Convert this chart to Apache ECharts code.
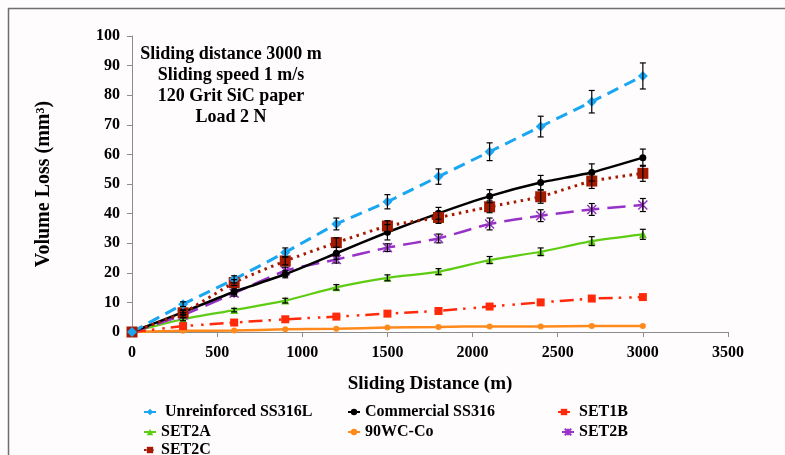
<!DOCTYPE html>
<html>
<head>
<meta charset="utf-8">
<script src="https://cdn.jsdelivr.net/npm/echarts@6/dist/echarts.min.js"></script>
<style>
  html, body { margin: 0; padding: 0; background: #fffcfd; }
  #chart { width: 785px; height: 455px; }
</style>
</head>
<body>
<div id="chart"></div>
<script>
// Sliding distance (m) at which volume loss was measured
const distances = [0, 300, 600, 900, 1200, 1500, 1800, 2100, 2400, 2700, 3000];

// Volume loss (mm^3) per material
const unreinforced = [0, 9.4, 17.8, 26.9, 36.5, 44.0, 52.5, 60.9, 69.4, 77.8, 86.5];
const commercial   = [0, 6.7, 13.6, 19.5, 26.6, 33.7, 40.1, 45.9, 50.5, 53.9, 58.9];
const set1b        = [0, 2.0, 3.2, 4.3, 5.2, 6.2, 7.1, 8.6, 10.0, 11.3, 11.8];
const set2a        = [0, 4.3, 7.4, 10.6, 15.1, 18.3, 20.4, 24.3, 27.1, 30.7, 33.0];
const wcCo         = [0, 0.4, 0.5, 0.9, 1.1, 1.5, 1.7, 1.9, 1.9, 2.0, 2.0];
const set2b        = [0, 5.7, 13.1, 20.7, 24.5, 28.5, 31.6, 36.5, 39.3, 41.4, 42.9];
const set2c        = [0, 6.5, 16.7, 24.0, 30.2, 35.8, 38.7, 42.3, 45.7, 51.0, 53.6];

// Standard deviations (mm^3) shown as error bars
const unreinforcedErr = [0, 0.8, 1.2, 1.5, 2.0, 2.4, 2.6, 3.0, 3.5, 3.8, 4.4];
const commercialErr   = [0, 0.8, 1.0, 1.2, 2.0, 2.6, 2.0, 2.2, 2.4, 2.9, 2.9];
const set2aErr        = [0, 0.5, 0.6, 0.8, 0.9, 1.0, 1.0, 1.2, 1.3, 1.5, 1.7];
const set2bErr        = [0, 0.8, 1.0, 1.2, 1.2, 1.3, 1.5, 2.0, 2.0, 2.0, 2.2];
const set2cErr        = [0, 0.8, 1.0, 1.3, 1.6, 1.8, 2.0, 2.0, 2.2, 2.5, 2.7];

// Axis ticks
const xTicks = [0, 500, 1000, 1500, 2000, 2500, 3000, 3500];
const yTicks = [0, 10, 20, 30, 40, 50, 60, 70, 80, 90, 100];

// Test conditions noted inside the plot
const conditions = ['Sliding distance 3000 m', 'Sliding speed 1 m/s', '120 Grit SiC paper', 'Load 2 N'];

// Legend entries laid out in three columns: [series name, left, top]
const legendSlots = [
  [' Unreinforced SS316L', 143, 404],
  ['Commercial SS316', 347, 404],
  [' SET1B', 557, 404],
  ['SET2A', 143, 424],
  ['90WC-Co', 347, 424],
  ['SET2B', 561, 424],
  ['SET2C', 143, 442]
];

const FONT = '"Liberation Serif", "Times New Roman", serif';

function pairs(values) {
  return distances.map((d, i) => [d, values[i]]);
}

function errorSeries(name, values, errs) {
  return {
    name: name,
    type: 'custom',
    z: 5,
    silent: true,
    data: distances.map((d, i) => [d, values[i], errs[i]]).filter(p => p[2] > 0),
    renderItem: function (params, api) {
      const x = api.value(0), y = api.value(1), e = api.value(2);
      const top = api.coord([x, y + e]);
      const bot = api.coord([x, y - e]);
      const cap = 3;
      const style = { stroke: '#000', lineWidth: 1.2 };
      return {
        type: 'group',
        children: [
          { type: 'line', shape: { x1: top[0], y1: top[1], x2: bot[0], y2: bot[1] }, style: style },
          { type: 'line', shape: { x1: top[0] - cap, y1: top[1], x2: top[0] + cap, y2: top[1] }, style: style },
          { type: 'line', shape: { x1: bot[0] - cap, y1: bot[1], x2: bot[0] + cap, y2: bot[1] }, style: style }
        ]
      };
    }
  };
}

const chart = echarts.init(document.getElementById('chart'), null, { renderer: 'canvas' });

const legendText = { fontFamily: FONT, fontWeight: 'bold', fontSize: 16, color: '#000' };

const option = {
  backgroundColor: '#fffcfd',
  animation: false,
  grid: { left: 132, right: 57, top: 36, bottom: 123 },
  xAxis: {
    type: 'value',
    min: 0,
    max: 3500,
    interval: 500,
    name: 'Sliding Distance (m)',
    nameLocation: 'middle',
    nameGap: 43,
    nameTextStyle: { fontFamily: FONT, fontWeight: 'bold', fontSize: 19, color: '#000' },
    axisLine: { lineStyle: { color: '#8c8c8c', width: 1 } },
    axisTick: { show: true, length: 5, lineStyle: { color: '#8c8c8c' } },
    axisLabel: { fontFamily: FONT, fontWeight: 'bold', fontSize: 16, color: '#000', margin: 13,
      formatter: v => xTicks.includes(v) ? String(v) : '' },
    splitLine: { show: false }
  },
  yAxis: {
    type: 'value',
    min: 0,
    max: 100,
    interval: 10,
    name: 'Volume Loss (mm³)',
    nameLocation: 'middle',
    nameGap: 78,
    nameRotate: 90,
    nameTextStyle: { fontFamily: FONT, fontWeight: 'bold', fontSize: 20, color: '#000' },
    axisLine: { show: true, lineStyle: { color: '#8c8c8c', width: 1 } },
    axisTick: { show: true, length: 5, lineStyle: { color: '#8c8c8c' } },
    axisLabel: { fontFamily: FONT, fontWeight: 'bold', fontSize: 16, color: '#000', margin: 12,
      formatter: v => yTicks.includes(v) ? String(v) : '' },
    splitLine: { show: false }
  },
  legend: legendSlots.map(([name, left, top]) => ({
    left: left,
    top: top,
    itemWidth: 12,
    itemHeight: 8,
    padding: 0,
    textStyle: legendText,
    selectedMode: false,
    data: [name]
  })),
  graphic: [
    {
      type: 'rect',
      silent: true,
      shape: { x: 8.5, y: 8.5, width: 900, height: 600 },
      style: { fill: 'none', stroke: '#6e6e6e', lineWidth: 1.5 }
    }
  ].concat(conditions.map((t, i) => ({
    type: 'text',
    silent: true,
    x: 231,
    y: 54 + i * 21,
    style: { text: t, fontFamily: FONT, fontWeight: 'bold', fontSize: 18, fill: '#000',
      textAlign: 'center', textVerticalAlign: 'middle' }
  }))),
  series: [
    errorSeries('err-unreinforced', unreinforced, unreinforcedErr),
    errorSeries('err-commercial', commercial, commercialErr),
    errorSeries('err-set2a', set2a, set2aErr),
    errorSeries('err-set2b', set2b, set2bErr),
    errorSeries('err-set2c', set2c, set2cErr),
    {
      name: 'SET2A', type: 'line', data: pairs(set2a), smooth: 0.25,
      symbol: 'triangle', symbolSize: 8,
      lineStyle: { color: '#5fcc14', width: 2.2, type: 'solid' },
      itemStyle: { color: '#5fcc14' }, z: 3
    },
    {
      name: '90WC-Co', type: 'line', data: pairs(wcCo), smooth: 0.25,
      symbol: 'circle', symbolSize: 6,
      lineStyle: { color: '#ff8a1c', width: 2.5, type: 'solid' },
      itemStyle: { color: '#ff8a1c' }, z: 3
    },
    {
      name: ' SET1B', type: 'line', data: pairs(set1b),
      symbol: 'rect', symbolSize: 8,
      lineStyle: { color: '#ff2a0a', width: 2.5, type: [14, 6, 2.5, 8, 2.5, 6] },
      itemStyle: { color: '#ff2a0a' }, z: 3
    },
    {
      name: 'SET2B', type: 'line', data: pairs(set2b), smooth: 0.15,
      symbol: 'path://M0,0L10,10M10,0L0,10M5,0L5,10', symbolSize: 9,
      lineStyle: { color: '#9632c6', width: 2.5, type: [18, 8] },
      itemStyle: { color: '#9632c6', borderColor: '#9632c6', borderWidth: 1.5 }, z: 3
    },
    {
      name: 'Commercial SS316', type: 'line', data: pairs(commercial), smooth: 0.15,
      symbol: 'circle', symbolSize: 7,
      lineStyle: { color: '#000000', width: 2.5, type: 'solid' },
      itemStyle: { color: '#000000' }, z: 4
    },
    {
      name: 'SET2C', type: 'line', data: pairs(set2c), smooth: 0.15,
      symbol: 'rect', symbolSize: 11,
      lineStyle: { color: '#a31a00', width: 3, type: [2.5, 4.5] },
      itemStyle: { color: '#a31a00' }, z: 4
    },
    {
      name: ' Unreinforced SS316L', type: 'line', data: pairs(unreinforced),
      symbol: 'diamond', symbolSize: 10,
      lineStyle: { color: '#1ba6f2', width: 3, type: [12, 7] },
      itemStyle: { color: '#1ba6f2' }, z: 4
    }
  ]
};

chart.setOption(option);
</script>
</body>
</html>
